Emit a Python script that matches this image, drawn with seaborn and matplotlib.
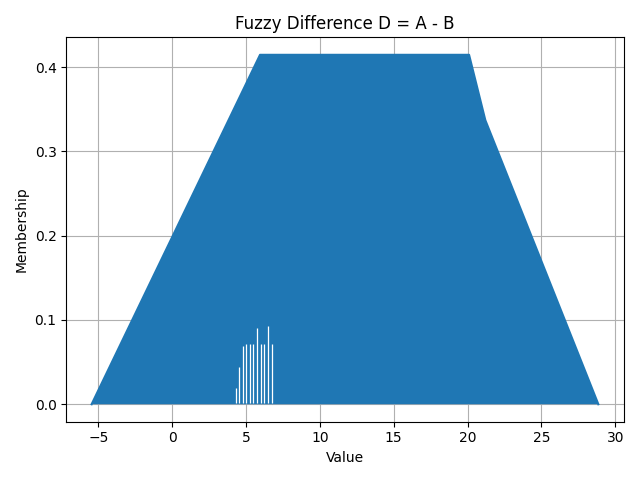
import matplotlib
matplotlib.use("Agg")
import matplotlib.pyplot as plt
import seaborn as sns
import pandas as pd

# Outline of the membership function (value, membership)
outline_x = [-5.45, 5.95, 20.1, 21.2, 28.85]
outline_y = [0.0, 0.4145, 0.4145, 0.337, 0.0]

# Thin gaps visible inside the filled region (value, height)
gap_x = [4.3, 4.52, 4.77, 5.0, 5.25, 5.5, 5.75, 6.0, 6.25, 6.5, 6.75]
gap_h = [0.019, 0.044, 0.069, 0.072, 0.072, 0.072, 0.09, 0.072, 0.072, 0.093, 0.072]

color = "#1f77b4"

fig, ax = plt.subplots(figsize=(6.4, 4.8), dpi=100)
df = pd.DataFrame({"Value": outline_x, "Membership": outline_y})
ax.fill(df["Value"], df["Membership"], color=color, linewidth=0, zorder=2)
sns.lineplot(data=df, x="Value", y="Membership", sort=False, color=color,
             linewidth=1.5, ax=ax, zorder=3)
ax.vlines(gap_x, 0.001, gap_h, colors="white", linewidth=0.9, zorder=4)

ax.set_title("Fuzzy Difference D = A - B")
ax.set_xlabel("Value")
ax.set_ylabel("Membership")
ax.grid(True)
ax.set_axisbelow(True)
ax.margins(x=0.05, y=0.05)
fig.tight_layout()
fig.savefig("out.png", dpi=100)
